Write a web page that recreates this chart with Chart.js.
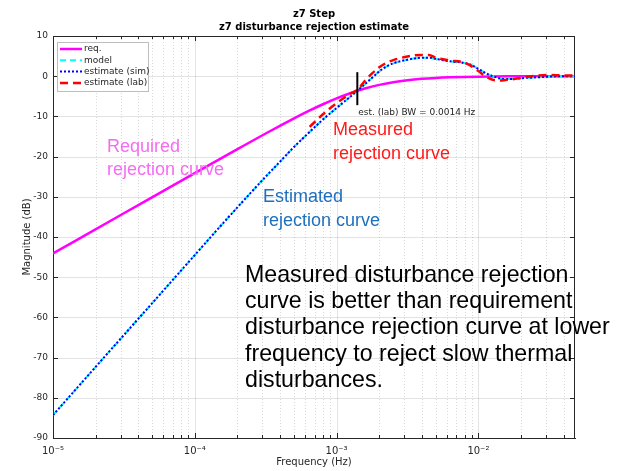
<!DOCTYPE html>
<html><head><meta charset="utf-8">
<script src="https://cdn.jsdelivr.net/npm/chart.js@4.4.0/dist/chart.umd.min.js"></script>
<style>html,body{margin:0;padding:0;background:#fff}#wrap{width:636px;height:471px;position:relative}</style>
</head><body><div id="wrap"><canvas id="c" width="636" height="471"></canvas></div>
<script>
// ---- data ----
const freqReq = [1e-5, 3.16e-5, 1e-4, 2.0e-4, 3.16e-4, 3.98e-4, 5.01e-4, 6.31e-4, 7.94e-4, 1e-3, 1.26e-3, 1.41e-3, 1.58e-3, 2.0e-3, 2.51e-3, 3.16e-3, 3.98e-3, 5.01e-3, 6.31e-3, 7.94e-3, 1e-2, 1.58e-2, 2.51e-2, 4.8e-2];
const reqDb   = [-44.1, -34.1, -24.1, -18.15, -14.25, -12.34, -10.49, -8.71, -7.04, -5.51, -4.17, -3.58, -3.05, -2.16, -1.48, -0.99, -0.65, -0.42, -0.27, -0.17, -0.11, -0.04, -0.02, -0.01];

const freqSim = [1e-5, 3.16e-5, 1e-4, 1.58e-4, 2.51e-4, 3.16e-4, 3.98e-4, 5.01e-4, 6.31e-4, 7.94e-4, 1e-3, 1.26e-3, 1.41e-3, 1.58e-3, 1.78e-3, 2.0e-3, 2.24e-3, 2.51e-3, 3.16e-3, 3.98e-3, 4.47e-3, 5.01e-3, 6.31e-3, 7.94e-3, 8.91e-3, 1e-2, 1.12e-2, 1.26e-2, 1.41e-2, 1.58e-2, 1.78e-2, 2.0e-2, 2.51e-2, 3.16e-2, 3.98e-2, 4.8e-2];
const modelDb = [-84.3, -64.4, -44.5, -36.6, -28.8, -25.0, -21.3, -17.6, -14.2, -10.9, -7.9, -5.0, -3.5, -2.0, -0.4, 1.2, 2.4, 3.2, 4.1, 4.6, 4.6, 4.3, 3.7, 3.3, 2.8, 1.8, 0.8, 0.0, -0.5, -0.7, -0.7, -0.5, -0.3, -0.1, 0.0, 0.0];
const simDb   = [-84.3, -64.4, -44.5, -36.6, -28.8, -25.0, -21.3, -17.6, -14.2, -10.9, -7.9, -5.0, -3.5, -2.0, -0.4, 1.2, 2.4, 3.2, 4.1, 4.6, 4.6, 4.3, 3.7, 3.3, 2.8, 1.8, 0.8, 0.0, -0.5, -0.7, -0.7, -0.5, -0.3, -0.1, 0.0, 0.0];

const freqLab = [6.46e-4, 7.94e-4, 1e-3, 1.26e-3, 1.41e-3, 1.58e-3, 1.78e-3, 2.0e-3, 2.24e-3, 2.51e-3, 3.16e-3, 3.98e-3, 4.47e-3, 5.01e-3, 6.31e-3, 7.94e-3, 8.91e-3, 1e-2, 1.12e-2, 1.26e-2, 1.41e-2, 1.58e-2, 1.78e-2, 2.0e-2, 2.51e-2, 3.16e-2, 3.98e-2, 4.8e-2];
const labDb   = [-12.6, -9.6, -6.7, -4.3, -3.3, -1.2, 0.7, 2.2, 3.3, 4.0, 4.9, 5.3, 5.3, 4.6, 3.9, 3.4, 2.5, 1.3, 0.0, -0.9, -1.1, -0.9, -0.7, -0.4, 0.1, 0.3, 0.2, 0.2];

const bwFreq = [0.0014, 0.0014];
const bwMarkDb = [1.0, -7.2];
const bwLabel = 'est. (lab) BW = 0.0014 Hz';

const seriesLabels = ['req.', 'model', 'estimate (sim)', 'estimate (lab)'];
const decadeLabels = {'-5': '10⁻⁵', '-4': '10⁻⁴', '-3': '10⁻³', '-2': '10⁻²'};
const yTickValues = [10, 0, -10, -20, -30, -40, -50, -60, -70, -80, -90];
const titleLines = ['z7 Step', 'z7 disturbance rejection estimate'];
const xTitle = 'Frequency (Hz)';
const yTitle = 'Magnitude (dB)';
const noteRequired = ['Required', 'rejection curve'];
const noteMeasured = ['Measured', 'rejection curve'];
const noteEstimated = ['Estimated', 'rejection curve'];
const noteMain = ['Measured disturbance rejection', 'curve is better than requirement', 'disturbance rejection curve at lower', 'frequency to reject slow thermal', 'disturbances.'];

const xMin = 1e-5, xMax = 0.048;

function pts(fs, ys) { return fs.map((f, i) => ({x: f, y: ys[i]})); }

const axisFont = {family: 'DejaVu Sans', size: 10};
const yTickFont = {family: 'DejaVu Sans', size: 9};
const axisColor = '#262626';

const matlabAxes = {
  id: 'matlabAxes',
  beforeDatasetsDraw(chart) {
    const {ctx, chartArea: a, scales: {x, y}} = chart;
    ctx.save();
    const minors = [], majors = [];
    for (let e = -5; e <= -2; e++) {
      for (let m = 1; m <= 9; m++) {
        const v = m * Math.pow(10, e);
        if (v < xMin * 0.999 || v > xMax * 1.001) continue;
        (m === 1 ? majors : minors).push(v);
      }
    }
    ctx.lineWidth = 1;
    ctx.strokeStyle = 'rgba(38,38,38,0.18)';
    ctx.setLineDash([1, 2]);
    minors.forEach(v => {
      const px = Math.round(x.getPixelForValue(v)) + 0.5;
      ctx.beginPath(); ctx.moveTo(px, a.top); ctx.lineTo(px, a.bottom); ctx.stroke();
    });
    ctx.setLineDash([]);
    ctx.strokeStyle = 'rgba(38,38,38,0.13)';
    majors.forEach(v => {
      const px = Math.round(x.getPixelForValue(v)) + 0.5;
      ctx.beginPath(); ctx.moveTo(px, a.top); ctx.lineTo(px, a.bottom); ctx.stroke();
    });
    yTickValues.forEach(v => {
      const py = Math.round(y.getPixelForValue(v)) + 0.5;
      ctx.beginPath(); ctx.moveTo(a.left, py); ctx.lineTo(a.right, py); ctx.stroke();
    });
    ctx.strokeStyle = axisColor;
    ctx.beginPath();
    ctx.moveTo(a.left + 0.5, a.top + 0.5); ctx.lineTo(a.right - 0.5, a.top + 0.5); ctx.lineTo(a.right - 0.5, a.bottom);
    ctx.stroke();
    majors.concat(minors).forEach(v => {
      const px = Math.round(x.getPixelForValue(v)) + 0.5;
      const len = majors.includes(v) ? 5 : 3;
      ctx.beginPath(); ctx.moveTo(px, a.bottom); ctx.lineTo(px, a.bottom - len);
      ctx.moveTo(px, a.top); ctx.lineTo(px, a.top + len); ctx.stroke();
    });
    yTickValues.forEach(v => {
      const py = Math.round(y.getPixelForValue(v)) + 0.5;
      ctx.beginPath(); ctx.moveTo(a.left, py); ctx.lineTo(a.left + 5, py);
      ctx.moveTo(a.right, py); ctx.lineTo(a.right - 5, py); ctx.stroke();
    });
    ctx.restore();
  }
};

const overlay = {
  id: 'overlay',
  afterDraw(chart) {
    const {ctx, chartArea: a, scales: {x, y}} = chart;
    ctx.save();
    ctx.fillStyle = '#000';
    ctx.font = 'bold 10px "DejaVu Sans"';
    ctx.textAlign = 'center'; ctx.textBaseline = 'alphabetic';
    const cx = (a.left + a.right) / 2;
    ctx.fillText(titleLines[0], cx, 17);
    ctx.fillText(titleLines[1], cx, 30);

    ctx.font = '9px "DejaVu Sans"';
    ctx.textAlign = 'left';
    ctx.fillStyle = '#262626';
    ctx.fillText(bwLabel, x.getPixelForValue(bwFreq[0]) + 1, y.getPixelForValue(bwMarkDb[1]) + 10);

    const ds = chart.data.datasets;
    const lx = 57, ly = 42, lw = 91, lh = 49;
    ctx.fillStyle = '#fff';
    ctx.fillRect(lx, ly, lw, lh);
    ctx.strokeStyle = '#bdbdbd'; ctx.lineWidth = 1;
    ctx.strokeRect(lx + 0.5, ly + 0.5, lw, lh);
    ctx.font = '9px "DejaVu Sans"';
    ctx.textBaseline = 'middle';
    for (let i = 0; i < 4; i++) {
      const d = ds[i];
      const yy = ly + 7 + i * 11.3;
      ctx.strokeStyle = d.borderColor; ctx.lineWidth = d.borderWidth;
      ctx.setLineDash(d.borderDash || []);
      ctx.beginPath(); ctx.moveTo(lx + 3, yy); ctx.lineTo(lx + 25, yy); ctx.stroke();
      ctx.setLineDash([]);
      ctx.fillStyle = '#262626';
      ctx.fillText(d.label, lx + 27, yy);
    }

    ctx.textBaseline = 'alphabetic';
    ctx.font = '18px "Liberation Sans"';
    ctx.fillStyle = '#f56cf0';
    ctx.fillText(noteRequired[0], 107, 152);
    ctx.fillText(noteRequired[1], 107, 175);
    ctx.fillStyle = '#ff1a1a';
    ctx.fillText(noteMeasured[0], 333, 135);
    ctx.fillText(noteMeasured[1], 333, 159);
    ctx.fillStyle = '#1f6fbf';
    ctx.fillText(noteEstimated[0], 263, 202);
    ctx.fillText(noteEstimated[1], 263, 226);
    ctx.font = '23.2px "Liberation Sans"';
    ctx.fillStyle = '#000';
    noteMain.forEach((t, i) => ctx.fillText(t, 245, 282 + i * 26.2));
    ctx.restore();
  }
};

new Chart(document.getElementById('c'), {
  type: 'line',
  data: {
    datasets: [
      {label: seriesLabels[0], data: pts(freqReq, reqDb), borderColor: '#ff00ff', borderWidth: 2.5, order: 4},
      {label: seriesLabels[1], data: pts(freqSim, modelDb), borderColor: '#00ffff', borderWidth: 2, borderDash: [6, 4], order: 3},
      {label: seriesLabels[2], data: pts(freqSim, simDb), borderColor: '#0000ff', borderWidth: 2, borderDash: [2, 2], order: 2},
      {label: seriesLabels[3], data: pts(freqLab, labDb), borderColor: '#ff0000', borderWidth: 2.5, borderDash: [8, 5], order: 1},
      {label: 'bw', data: pts(bwFreq, bwMarkDb), borderColor: '#000000', borderWidth: 2, order: 0, tension: 0}
    ]
  },
  options: {
    responsive: false, animation: false, devicePixelRatio: 1,
    elements: {point: {radius: 0}, line: {tension: 0.25, cubicInterpolationMode: 'monotone', fill: false}},
    layout: {padding: {left: 0, right: 61, top: 36, bottom: 0}},
    plugins: {legend: {display: false}, tooltip: {enabled: false}, title: {display: false}},
    scales: {
      x: {
        type: 'logarithmic', min: xMin, max: xMax, position: 'bottom',
        grid: {display: false, tickLength: 0},
        border: {display: true, color: axisColor, width: 1},
        afterBuildTicks(s) {
          const t = [];
          for (let e = -5; e <= -2; e++) t.push({value: Math.pow(10, e)});
          s.ticks = t;
        },
        ticks: {
          autoSkip: false, maxRotation: 0, color: axisColor, font: axisFont, padding: 7,
          callback(v) { const e = Math.round(Math.log10(v)); return decadeLabels[String(e)] || ''; }
        },
        title: {display: true, text: xTitle, color: axisColor, font: axisFont, padding: {top: 0, bottom: 3}},
        afterFit(s) { s.height = 33; }
      },
      y: {
        type: 'linear', min: -90, max: 10,
        grid: {display: false, tickLength: 0},
        border: {display: true, color: axisColor, width: 1},
        afterBuildTicks(s) { s.ticks = yTickValues.map(v => ({value: v})); },
        ticks: {color: axisColor, font: yTickFont, padding: 5},
        title: {display: true, text: yTitle, color: axisColor, font: axisFont, padding: {top: 21, bottom: 0}},
        afterFit(s) { s.width = 53; }
      }
    }
  },
  plugins: [matlabAxes, overlay]
});
</script></body></html>
